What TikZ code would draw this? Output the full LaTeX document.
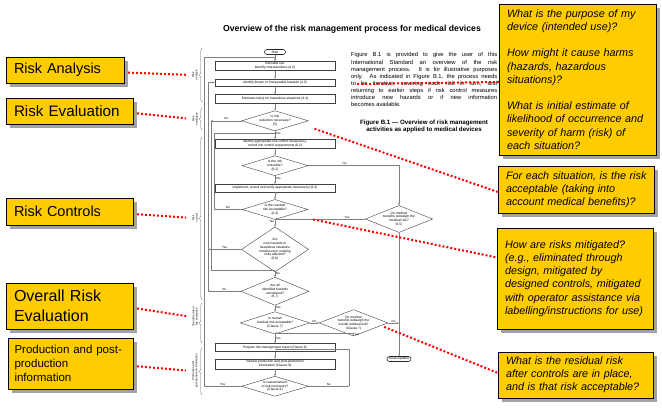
\documentclass[tikz,border=0pt]{standalone}
\usepackage{fontspec}
\setmainfont{Liberation Sans}
\usetikzlibrary{shapes.geometric, arrows.meta, positioning, shadows, decorations.pathreplacing}

\definecolor{notefill}{HTML}{FFCC00}
\definecolor{flowgray}{HTML}{7F7F7F}

\begin{document}
\begin{tikzpicture}[
        x=1pt, y=-1pt,
        flowbox/.style={rectangle, draw=black!75, line width=0.4pt, minimum width=120pt, inner sep=0pt, align=center, font=\fontsize{3.3}{3.8}\selectfont},
        decision/.style={diamond, draw=black!75, line width=0.4pt, inner sep=0pt, align=center, font=\fontsize{3.3}{3.8}\selectfont},
        terminal/.style={rectangle, rounded corners=2.5pt, draw=black!85, line width=0.6pt, minimum width=21pt, minimum height=5pt, inner sep=0pt, font=\fontsize{3.3}{3.8}\selectfont},
        flowarrow/.style={draw=flowgray, line width=0.5pt, -{Stealth[length=2.2pt, width=1.8pt]}},
        flowplain/.style={draw=flowgray, line width=0.5pt},
        flowlabel/.style={font=\fontsize{3}{3.5}\selectfont, inner sep=0.6pt},
        phase/.style={rotate=90, align=center, font=\fontsize{2.8}{3.3}\selectfont, inner sep=0pt},
        phasebrace/.style={draw=black!60, line width=0.35pt, decorate, decoration={brace, amplitude=2.5pt}},
        stage/.style={rectangle, draw=black, line width=1pt, fill=notefill, anchor=west, align=left, inner xsep=7.5pt, inner ysep=0pt, drop shadow={shadow xshift=3.5pt, shadow yshift=-3.5pt, fill=black!65, opacity=0.55}},
        question/.style={rectangle, draw=black, line width=1pt, fill=notefill, anchor=west, align=left, inner xsep=7.5pt, inner ysep=0pt, font=\fontsize{10.8}{13.2}\selectfont\itshape, drop shadow={shadow xshift=3.5pt, shadow yshift=-3.5pt, fill=black!65, opacity=0.55}},
        redlink/.style={draw=red, line width=2pt, dash pattern=on 2pt off 2pt}
    ]
        \fill [white] (0,0) rectangle (662,408);
        \useasboundingbox (0,0) rectangle (662,408);

        % Heading and standard text
        \node (title) [font=\bfseries\fontsize{8.7}{10}\selectfont] at (352,29) {Overview of the risk management process for medical devices};
        \node (blurb) [anchor=north west, text width=146pt, inner sep=0pt, align=justify, font=\fontsize{5.8}{7.1}\selectfont] at (351,52.5) {Figure B.1 is provided to give the user of this\linebreak International Standard an overview of the risk\linebreak management process. It is for illustrative purposes\linebreak only. As indicated in Figure B.1, the process needs\linebreak to be iterative, covering each risk in turn, and\linebreak returning to earlier steps if risk control measures\linebreak introduce new hazards or if new information\linebreak becomes available.};
        \node (caption) [align=center, font=\bfseries\fontsize{6.2}{7}\selectfont] at (424,126.5) {Figure B.1 --- Overview of risk management\\activities as applied to medical devices};

        % Flowchart
        \node (start) [terminal] at (275,52) {Start};
        \node (intuse) [flowbox, minimum height=9pt, below=6.5pt of start] {Intended use\\Identify characteristics (4.2)};
        \node (hazards) [flowbox, minimum height=7pt, below=8pt of intuse] {Identify known or foreseeable hazards (4.3)};
        \node (estimate) [flowbox, minimum height=9pt, below=8pt of hazards] {Estimate risk(s) for hazardous situations (4.4)};
        \node (reduce) [decision, minimum width=66pt, minimum height=20pt, aspect=3.3, below=7pt of estimate] {Is risk\\reduction necessary?\\(5)};
        \node (controls) [flowbox, minimum height=9pt, below=8pt of reduce] {Identify appropriate risk control measure(s),\\record risk control requirements (6.2)};
        \node (reducible) [decision, minimum width=66pt, minimum height=20pt, aspect=3.3, below=7pt of controls] {Is the risk\\reducible?\\(6.2)};
        \node (implement) [flowbox, minimum height=8pt, below=8pt of reducible] {Implement, record and verify appropriate measure(s) (6.3)};
        \node (residual) [decision, minimum width=66pt, minimum height=20pt, aspect=3.3, below=7pt of implement] {Is the residual\\risk acceptable?\\(6.4)};
        \node (newhaz) [decision, minimum width=67pt, minimum height=45pt, aspect=1.5, below=7pt of residual] {Are\\new hazards or\\hazardous situations\\introduced or existing\\risks affected?\\(6.6)};
        \node (allhaz) [decision, minimum width=68pt, minimum height=28pt, aspect=2.4, below=5pt of newhaz] {Are all\\identified hazards\\considered?\\(6.7)};
        \node (overall) [decision, minimum width=68pt, minimum height=22pt, aspect=3.1, below=6pt of allhaz] {Is overall\\residual risk acceptable?\\(Clause 7)};
        \node (overallben) [decision, minimum width=68pt, minimum height=26pt, aspect=2.6, right=9pt of overall] {Do medical\\benefits outweigh the\\overall residual risk?\\(Clause 7)};
        \node (report) [flowbox, minimum height=8pt, below=9pt of overall] {Prepare risk management report (Clause 8)};
        \node (review) [flowbox, minimum height=10pt, below=7pt of report] {Review production and post-production\\information (Clause 9)};
        \node (reassess) [decision, minimum width=67pt, minimum height=20pt, aspect=3.35, below=7pt of review] {Is reassessment\\of risk necessary?\\(Clause 9)};
        \node (benefits) [decision, minimum width=67pt, minimum height=27pt, aspect=2.5] at (399,219) {Do medical\\benefits outweigh the\\residual risk?\\(6.5)};
        \node (unacc) [terminal, minimum width=24pt] at (benefits.south |- 0,359) {Unacceptable};

        % Junctions
        \coordinate (top) at (275,57.5);
        \coordinate (ja) at (204,0 |- reassess.west);
        \coordinate (jb1) at (208,0 |- newhaz.west);
        \coordinate (jb2) at (208,0 |- allhaz.west);
        \coordinate (jc) at (211,0 |- reduce.west);
        \coordinate (jc2) at (275,270.5);
        \coordinate (jd) at (214,0 |- residual.west);
        \coordinate (jd2) at (275,133);
        \coordinate (je) at (349,0 |- reassess.east);
        \coordinate (jf) at (275,349.5);
        \coordinate (jy) at (residual.south |- benefits.west);
        \coordinate (jy2) at (275,333);
        \coordinate (jn) at (benefits.south |- overallben.east);

        % Arrows
        \draw [flowarrow] (start) -- (intuse);
        \draw [flowarrow] (intuse) -- (hazards);
        \draw [flowarrow] (hazards) -- (estimate);
        \draw [flowarrow] (estimate) -- (reduce);
        \draw [flowarrow] (reduce) -- node[anchor=west, flowlabel, pos=0.3] {Yes} (controls);
        \draw [flowarrow] (controls) -- (reducible);
        \draw [flowarrow] (reducible) -- node[anchor=west, flowlabel, pos=0.3] {Yes} (implement);
        \draw [flowarrow] (implement) -- (residual);
        \draw [flowarrow] (residual) -- node[anchor=east, flowlabel, pos=0.3] {Yes} (newhaz);
        \draw [flowarrow] (newhaz) -- node[anchor=west, flowlabel, pos=0.2] {No} (allhaz);
        \draw [flowarrow] (allhaz) -- node[anchor=west, flowlabel, pos=0.3] {Yes} (overall);
        \draw [flowarrow] (overall) -- node[anchor=west, flowlabel, pos=0.45] {Yes} (report);
        \draw [flowarrow] (report) -- (review);
        \draw [flowarrow] (review) -- (reassess);

        \draw [flowarrow] (reducible) -| node[anchor=south, flowlabel, pos=0.2] {No} (benefits);
        \draw [flowarrow] (benefits) -- node[anchor=south, flowlabel, pos=0.2] {Yes} (jy);
        \draw [flowarrow] (benefits) -- (unacc);
        \draw [flowarrow] (overall) -- node[anchor=south, flowlabel] {No} (overallben);
        \draw [flowarrow] (overallben) -- node[anchor=south, flowlabel] {No} (jn);
        \draw [flowarrow] (overallben) |- node[anchor=north west, flowlabel, pos=0.5] {Yes} (jy2);

        \draw [flowarrow] (reduce) -- node[anchor=south, flowlabel] {No} (jc);
        \draw [flowplain] (jc) |- (jc2);
        \draw [flowarrow] (residual) -- node[anchor=south, flowlabel] {No} (jd);
        \draw [flowplain] (jd) |- (jd2);
        \draw [flowarrow] (newhaz) -- node[anchor=south, flowlabel] {Yes} (jb1);
        \draw [flowarrow] (allhaz) -- node[anchor=south, flowlabel] {No} (jb2);
        \draw [flowarrow] (jb2) |- (hazards);
        \draw [flowarrow] (reassess) -- node[anchor=south, flowlabel] {Yes} (ja);
        \draw [flowplain] (ja) |- (top);
        \draw [flowarrow] (reassess) -- node[anchor=south, flowlabel] {No} (je);
        \draw [flowarrow] (je) |- (jf);

        % Phases of the standard
        \node (lbanalysis) [phase] at (195,75) {Risk\\analysis};
        \node (lbeval) [phase] at (195,119) {Risk\\evaluation};
        \node (lbcontrol) [phase] at (195,218) {Risk\\control};
        \node (lboverall) [phase] at (195,317) {Overall residual\\risk evaluation};
        \node (lbprod) [phase] at (195,371) {Production and\\post-production information};
        \draw [phasebrace] (202,102) -- (202,48);
        \draw [phasebrace] (202,130) -- (202,108);
        \draw [phasebrace] (202,300) -- (202,137);
        \draw [phasebrace] (202,343) -- (202,303);
        \draw [phasebrace] (202,395) -- (202,348);

        % Stage boxes
        \node (analysis) [stage, text width=103pt, minimum height=26pt, font=\fontsize{14.5}{17}\selectfont] at (6,70) {Risk Analysis};
        \node (evaluation) [stage, text width=112pt, minimum height=26pt, font=\fontsize{15.2}{18}\selectfont] at (6,111) {Risk Evaluation};
        \node (control) [stage, text width=112pt, minimum height=27pt, font=\fontsize{14.5}{17}\selectfont] at (6,211.5) {Risk Controls};
        \node (overallrisk) [stage, text width=112pt, minimum height=46pt, font=\fontsize{16}{20}\selectfont] at (6,306) {Overall Risk\\Evaluation};
        \node (production) [stage, inner xsep=6pt, text width=113pt, minimum height=51pt, font=\fontsize{11.5}{14}\selectfont] at (8,363.5) {Production and post-\\production\\information};

        % Questions
        \node (qanalysis) [question, text width=142pt, minimum height=151pt] at (499,79.5) {What is the purpose of my\\device (intended use)?\\[13.2pt]How might it cause harms\\(hazards, hazardous\\situations)?\\[13.2pt]What is initial estimate of\\likelihood of occurrence and\\severity of harm (risk) of\\each situation?};
        \node (qeval) [question, text width=141pt, minimum height=47pt] at (498,189.5) {For each situation, is the risk\\acceptable (taking into\\account medical benefits)?};
        \node (qcontrol) [question, text width=141pt, minimum height=101pt] at (497,278.5) {How are risks mitigated?\\(e.g., eliminated through\\design, mitigated by\\designed controls, mitigated\\with operator assistance via\\labelling/instructions for use)};
        \node (qresidual) [question, text width=140pt, minimum height=46pt] at (498,375) {What is the residual risk\\after controls are in place,\\and is that risk acceptable?};

        % Red pointers
        \draw [redlink, shorten <=3pt, shorten >=6pt] ([yshift=-2.5pt]analysis.east) -- (lbanalysis.north);
        \draw [redlink, shorten <=3pt, shorten >=6pt] ([yshift=-2pt]evaluation.east) -- (lbeval.north);
        \draw [redlink, shorten <=3pt, shorten >=6pt] ([yshift=-2.5pt]control.east) -- (lbcontrol.north);
        \draw [redlink, shorten <=3pt, shorten >=6pt] ([yshift=-2pt]overallrisk.east) -- (lboverall.north);
        \draw [redlink, shorten <=3pt, shorten >=6pt] ([yshift=-2.5pt]production.east) -- (lbprod.north);

        \coordinate (ptana) at (357,84);
        \coordinate [below right=8pt and 6pt of reduce.east] (pteval);
        \coordinate [below right=10pt and 5pt of residual.east] (ptctrl);
        \coordinate [below left=4pt and 4pt of overallben.east] (ptres);
        \draw [redlink] (ptana) -- ([yshift=-2.5pt]qanalysis.west);
        \draw [redlink] (pteval) -- ([yshift=-2.5pt]qeval.west);
        \draw [redlink] (ptctrl) -- ([yshift=21pt]qcontrol.west);
        \draw [redlink] (ptres) -- ([yshift=2pt]qresidual.west);
    \end{tikzpicture}
\end{document}
